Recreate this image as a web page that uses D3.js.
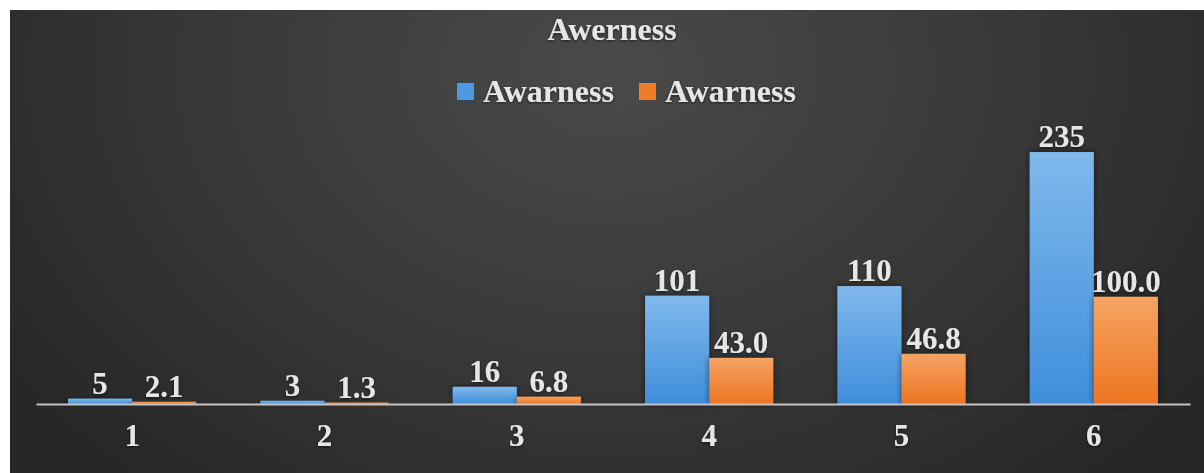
<!DOCTYPE html>
<html>
<head>
<meta charset="utf-8">
<script src="https://cdn.jsdelivr.net/npm/d3@7"></script>
<style>
  html, body { margin: 0; padding: 0; background: #ffffff; }
  svg { display: block; }
  svg text { font-family: "Liberation Serif", "Times New Roman", serif; font-weight: bold; }
</style>
</head>
<body>
<svg id="chart" width="1204" height="473"></svg>
<script>
// Chart data
const categories = ["1", "2", "3", "4", "5", "6"];
const seriesNames = ["Awarness", "Awarness"];
const countValues = [5, 3, 16, 101, 110, 235];
const percentValues = [2.1, 1.3, 6.8, 43.0, 46.8, 100.0];
const chartTitle = "Awerness";

const svg = d3.select("#chart");
const W = 1204, H = 473;
const panel = { x: 10, y: 10, w: W - 10, h: H - 10 };
const plot = { left: 36, right: 1190, bottom: 404, top: 136 };
const serif = "'Liberation Serif', 'Times New Roman', serif";

const defs = svg.append("defs");

// Dark background with a soft light spot near the top centre
const bg = defs.append("radialGradient").attr("id", "bgGrad")
  .attr("gradientUnits", "userSpaceOnUse")
  .attr("cx", 610).attr("cy", 70).attr("r", 720)
  .attr("gradientTransform", "translate(610,70) scale(1,0.75) translate(-610,-70)");
bg.append("stop").attr("offset", "0%").attr("stop-color", "#4a4a4a");
bg.append("stop").attr("offset", "55%").attr("stop-color", "#383838");
bg.append("stop").attr("offset", "100%").attr("stop-color", "#272727");

// Vertical fills for the two series
function barGradient(id, top, bottom) {
  const g = defs.append("linearGradient").attr("id", id)
    .attr("x1", 0).attr("y1", 0).attr("x2", 0).attr("y2", 1);
  g.append("stop").attr("offset", "0%").attr("stop-color", top);
  g.append("stop").attr("offset", "100%").attr("stop-color", bottom);
}
barGradient("blueGrad", "#80b8ec", "#3f8edb");
barGradient("orangeGrad", "#f5a464", "#ee7420");

const glow = defs.append("filter").attr("id", "barGlow")
  .attr("x", "-20%").attr("y", "-20%").attr("width", "140%").attr("height", "140%");
glow.append("feDropShadow").attr("dx", 0).attr("dy", 0)
  .attr("stdDeviation", 3).attr("flood-color", "#000").attr("flood-opacity", 0.55);

const textShadow = defs.append("filter").attr("id", "textShadow")
  .attr("x", "-20%").attr("y", "-30%").attr("width", "140%").attr("height", "160%");
textShadow.append("feDropShadow").attr("dx", 0).attr("dy", 1)
  .attr("stdDeviation", 1.5).attr("flood-color", "#000").attr("flood-opacity", 0.6);

svg.append("rect")
  .attr("x", panel.x).attr("y", panel.y)
  .attr("width", panel.w).attr("height", panel.h)
  .attr("fill", "url(#bgGrad)");

// Scales
const x0 = d3.scaleBand().domain(categories)
  .range([plot.left, plot.right]).paddingInner(1 / 3).paddingOuter(1 / 6);
const x1 = d3.scaleBand().domain([0, 1]).range([0, x0.bandwidth()]).padding(0);
const y = d3.scaleLinear().domain([0, 250]).range([plot.bottom, plot.top]);

const series = [
  { values: countValues, fill: "url(#blueGrad)", swatch: "#4e9ae2", fmt: d => d3.format("d")(d) },
  { values: percentValues, fill: "url(#orangeGrad)", swatch: "#f07d26", fmt: d => d.toFixed(1) }
];

// Bars
const groups = svg.append("g").selectAll("g")
  .data(categories).join("g")
  .attr("transform", c => `translate(${x0(c)},0)`);

series.forEach((s, si) => {
  groups.append("rect")
    .attr("x", x1(si))
    .attr("width", x1.bandwidth())
    .attr("y", (c, i) => y(s.values[i]))
    .attr("height", (c, i) => y(0) - y(s.values[i]))
    .attr("fill", s.fill)
    .attr("filter", "url(#barGlow)");
});

// Category axis
const axis = svg.append("g")
  .attr("transform", `translate(0,${plot.bottom})`)
  .call(d3.axisBottom(x0).tickSizeInner(0).tickSizeOuter(0).tickPadding(20));
axis.attr("font-family", serif);
axis.select(".domain").attr("stroke", "#c4c4c4").attr("stroke-width", 2);
axis.selectAll("text")
  .attr("fill", "#e6e6e6")
  .attr("font-size", 31)
  .attr("font-family", serif)
  .attr("font-weight", "bold")
  .attr("filter", "url(#textShadow)");

// Value labels
series.forEach((s, si) => {
  groups.append("text")
    .attr("x", x1(si) + x1.bandwidth() / 2)
    .attr("y", (c, i) => y(s.values[i]) - 5)
    .attr("text-anchor", "middle")
    .attr("font-family", serif)
    .attr("font-size", 31)
    .attr("fill", "#e6e6e6")
    .attr("filter", "url(#textShadow)")
    .text((c, i) => s.fmt(s.values[i]));
});

// Title
svg.append("text")
  .attr("x", 612).attr("y", 40)
  .attr("text-anchor", "middle")
  .attr("font-family", serif)
  .attr("font-size", 32)
  .attr("fill", "#e6e6e6")
  .attr("filter", "url(#textShadow)")
  .text(chartTitle);

// Legend
const legend = svg.append("g").attr("transform", "translate(457,102)");
let lx = 0;
series.forEach((s, si) => {
  const item = legend.append("g").attr("transform", `translate(${lx},0)`);
  item.append("rect")
    .attr("x", 0).attr("y", -19)
    .attr("width", 17).attr("height", 17)
    .attr("fill", s.swatch);
  const t = item.append("text")
    .attr("x", 26).attr("y", 0)
    .attr("font-family", serif)
    .attr("font-size", 32)
    .attr("fill", "#e6e6e6")
    .attr("filter", "url(#textShadow)")
    .text(seriesNames[si]);
  lx += 26 + t.node().getComputedTextLength() + 25;
});
</script>
</body>
</html>
